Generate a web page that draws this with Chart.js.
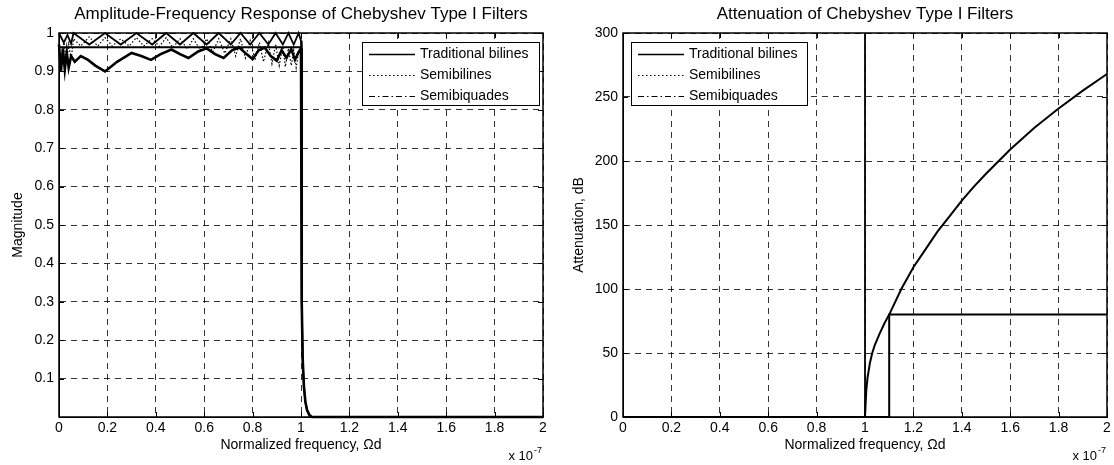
<!DOCTYPE html>
<html>
<head>
<meta charset="utf-8">
<script src="https://cdn.jsdelivr.net/npm/chart.js@4.4.1/dist/chart.umd.min.js"></script>
<style>
  html, body { margin: 0; padding: 0; background: #fff; }
  #wrap { position: relative; width: 1114px; height: 465px; overflow: hidden; }
  .panel { position: absolute; top: 0; width: 557px; height: 465px; }
</style>
</head>
<body>
<div id="wrap">
  <div class="panel" style="left:0"><canvas id="mag"></canvas></div>
  <div class="panel" style="left:557px"><canvas id="att"></canvas></div>
</div>
<script>
// ---- axis ticks (frequency in units of 10^-7) ----
const xTickValues = [0, 0.2, 0.4, 0.6, 0.8, 1, 1.2, 1.4, 1.6, 1.8, 2];
const xTickLabels = ['0', '0.2', '0.4', '0.6', '0.8', '1', '1.2', '1.4', '1.6', '1.8', '2'];
const magTickValues = [0, 0.1, 0.2, 0.3, 0.4, 0.5, 0.6, 0.7, 0.8, 0.9, 1];
const magTickLabels = ['', '0.1', '0.2', '0.3', '0.4', '0.5', '0.6', '0.7', '0.8', '0.9', '1'];
const attTickValues = [0, 50, 100, 150, 200, 250, 300];
const attTickLabels = ['0', '50', '100', '150', '200', '250', '300'];
const seriesNames = ['Traditional bilines', 'Semibilines', 'Semibiquades'];

// ---- magnitude response ----
const magTradX = [0, 0.02, 0.035, 0.05, 0.06, 0.125, 0.19, 0.255, 0.32, 0.385, 0.443, 0.5, 0.555, 0.61, 0.66, 0.71, 0.75, 0.79, 0.828, 0.865, 0.895, 0.925, 0.948, 0.97, 0.99, 1.0, 1.002, 1.004, 1.007, 1.012, 1.018, 1.025, 1.035, 1.045, 2.0];
const magTradY = [1.0, 0.975, 0.995, 0.972, 1.0, 0.97, 1.0, 0.97, 1.0, 0.97, 1.0, 0.97, 1.0, 0.97, 1.0, 0.97, 1.0, 0.97, 1.0, 0.97, 1.0, 0.97, 1.0, 0.97, 1.0, 0.98, 0.6, 0.3, 0.15, 0.08, 0.04, 0.018, 0.005, 0.0, 0.0];

const magSbilX = [0, 0.01, 0.02, 0.03, 0.04, 0.05, 0.06, 0.09, 0.125, 0.16, 0.19, 0.22, 0.255, 0.29, 0.32, 0.35, 0.385, 0.415, 0.443, 0.47, 0.5, 0.53, 0.555, 0.585, 0.61, 0.635, 0.66, 0.685, 0.71, 0.73, 0.75, 0.77, 0.79, 0.81, 0.828, 0.845, 0.865, 0.88, 0.895, 0.91, 0.925, 0.935, 0.948, 0.96, 0.97, 0.98, 0.99, 1.0, 1.002, 1.004, 1.007, 1.012, 1.018, 1.025, 1.035, 1.045, 2.0];
const magSbilY = [0.95, 0.91, 0.98, 0.92, 0.97, 0.93, 0.985, 0.966, 0.99, 0.966, 0.988, 0.966, 0.985, 0.966, 0.988, 0.966, 0.985, 0.965, 0.988, 0.962, 0.985, 0.958, 0.985, 0.955, 0.985, 0.95, 0.985, 0.947, 0.985, 0.94, 0.985, 0.935, 0.98, 0.93, 0.975, 0.925, 0.975, 0.92, 0.97, 0.915, 0.965, 0.912, 0.96, 0.915, 0.955, 0.91, 0.95, 0.96, 0.6, 0.3, 0.15, 0.08, 0.04, 0.018, 0.005, 0.0, 0.0];

const magSbiqX = [0, 0.008, 0.016, 0.024, 0.032, 0.04, 0.05, 0.065, 0.09, 0.12, 0.15, 0.19, 0.24, 0.3, 0.34, 0.38, 0.42, 0.465, 0.5, 0.535, 0.575, 0.61, 0.645, 0.68, 0.715, 0.745, 0.775, 0.8, 0.825, 0.85, 0.875, 0.9, 0.92, 0.94, 0.96, 0.975, 0.99, 1.0, 1.002, 1.004, 1.007, 1.012, 1.018, 1.025, 1.035, 1.045, 2.0];
const magSbiqY = [0.97, 0.9, 0.96, 0.905, 0.95, 0.91, 0.94, 0.925, 0.94, 0.93, 0.915, 0.9, 0.925, 0.948, 0.94, 0.93, 0.945, 0.957, 0.945, 0.935, 0.952, 0.96, 0.945, 0.935, 0.955, 0.962, 0.945, 0.932, 0.955, 0.962, 0.94, 0.928, 0.955, 0.935, 0.958, 0.93, 0.95, 0.96, 0.6, 0.3, 0.15, 0.08, 0.04, 0.018, 0.005, 0.0, 0.0];

const magFloorX = [0, 1.0];
const magFloorY = [0.963, 0.963];

// ---- attenuation, dB ----
const attTradX = [0, 1.0, 1.0];
const attTradY = [0, 0, 300];

const attSbilX = [0, 1.0, 1.005, 1.01, 1.02, 1.03, 1.04, 1.06, 1.08, 1.1, 2.0];
const attSbilY = [0, 0, 20, 30, 42, 50, 56, 65, 73, 80, 80];

const attSbiqX = [0, 1.1, 1.1, 1.15, 1.2, 1.25, 1.3, 1.35, 1.4, 1.45, 1.5, 1.6, 1.7, 1.8, 1.9, 2.0];
const attSbiqY = [0, 0, 80, 100, 117, 131, 145, 157, 169, 180, 190, 209, 226, 241, 255, 268];

// ---- drawing ----
const FONT = "'Liberation Sans', Arial, Helvetica, sans-serif";
const X_EXPONENT = '-7';
const legendDash = [[], [1.5, 2.5], [6, 3, 1.5, 3]];
const legendWidth = [1.6, 1.2, 1.2];

function pts(xs, ys) { return xs.map((x, i) => ({ x: x, y: ys[i] })); }

function line(data, width, dash) {
  return { data: data, borderColor: '#000', borderWidth: width, borderDash: dash || [],
           pointRadius: 0, tension: 0, fill: false, clip: false };
}

const decor = {
  id: 'decor',
  afterDraw(chart, args, o) {
    const ctx = chart.ctx, a = chart.chartArea;
    const xs = chart.scales.x, ys = chart.scales.y;
    ctx.save();
    ctx.setLineDash([]);
    ctx.strokeStyle = '#000';
    ctx.lineWidth = 1;
    ctx.beginPath();
    xs.ticks.forEach(t => {
      const p = Math.round(xs.getPixelForValue(t.value)) + 0.5;
      ctx.moveTo(p, a.bottom); ctx.lineTo(p, a.bottom - 5);
      ctx.moveTo(p, a.top); ctx.lineTo(p, a.top + 5);
    });
    ys.ticks.forEach(t => {
      const p = Math.round(ys.getPixelForValue(t.value)) + 0.5;
      ctx.moveTo(a.left, p); ctx.lineTo(a.left + 5, p);
      ctx.moveTo(a.right, p); ctx.lineTo(a.right - 5, p);
    });
    ctx.stroke();
    ctx.lineWidth = 1.5;
    ctx.strokeRect(a.left, a.top, a.right - a.left, a.bottom - a.top);

    // title
    ctx.fillStyle = '#000';
    ctx.font = '17px ' + FONT;
    ctx.textAlign = 'center';
    ctx.textBaseline = 'middle';
    ctx.fillText(o.title, (a.left + a.right) / 2, 14);

    // axis multiplier
    ctx.textAlign = 'left';
    ctx.textBaseline = 'alphabetic';
    ctx.font = '9px ' + FONT;
    const wExp = ctx.measureText(X_EXPONENT).width;
    ctx.font = '13px ' + FONT;
    const base = 'x 10';
    const wBase = ctx.measureText(base).width;
    const x0 = a.right - 2 - wExp - wBase;
    ctx.fillText(base, x0, 460);
    ctx.font = '9px ' + FONT;
    ctx.fillText(X_EXPONENT, x0 + wBase + 1, 453);

    // legend
    const L = o.legend;
    ctx.fillStyle = '#fff';
    ctx.fillRect(L.x, L.y, L.w, L.h);
    ctx.lineWidth = 1;
    ctx.strokeRect(L.x + 0.5, L.y + 0.5, L.w, L.h);
    ctx.font = '14px ' + FONT;
    ctx.textBaseline = 'middle';
    ctx.fillStyle = '#000';
    seriesNames.forEach((name, i) => {
      const cy = L.y + 12 + i * 21;
      ctx.save();
      ctx.lineWidth = legendWidth[i];
      ctx.setLineDash(legendDash[i]);
      ctx.beginPath();
      ctx.moveTo(L.x + 7, cy + 0.5);
      ctx.lineTo(L.x + 7 + L.sample, cy + 0.5);
      ctx.stroke();
      ctx.restore();
      ctx.fillText(name, L.x + 12 + L.sample, cy);
    });
    ctx.restore();
  }
};

function scales(yVals, yLabels, yMax, yTitle, yTitlePad, yWidth) {
  const grid = { color: '#000', lineWidth: 0.8, drawTicks: false };
  const border = { display: true, color: '#000', width: 1, dash: [6, 5] };
  const tickFont = { family: FONT, size: 14 };
  return {
    x: {
      type: 'linear', min: 0, max: 2,
      afterBuildTicks: s => { s.ticks = xTickValues.map(v => ({ value: v })); },
      afterFit: s => { s.height = 48; },
      grid: grid, border: border,
      ticks: { autoSkip: false, maxRotation: 0, color: '#000', font: tickFont, padding: 3,
               callback: (v, i) => xTickLabels[i] },
      title: { display: true, text: 'Normalized frequency, \u03A9d', color: '#000',
               font: tickFont, padding: { top: 0, bottom: 11 } }
    },
    y: {
      type: 'linear', min: 0, max: yMax,
      afterBuildTicks: s => { s.ticks = yVals.map(v => ({ value: v })); },
      afterFit: s => { s.width = yWidth; },
      grid: grid, border: border,
      ticks: { autoSkip: false, color: '#000', font: tickFont, padding: 5,
               callback: (v, i) => yLabels[i] },
      title: { display: true, text: yTitle, color: '#000', font: tickFont,
               padding: { top: yTitlePad, bottom: 0 } }
    }
  };
}

function baseOptions(padRight, sc, title, legend) {
  return {
    responsive: true, maintainAspectRatio: false, animation: false,
    layout: { padding: { top: 33, right: padRight, left: 0, bottom: 0 } },
    scales: sc,
    plugins: { legend: { display: false }, tooltip: { enabled: false }, title: { display: false },
               decor: { title: title, legend: legend } }
  };
}

new Chart(document.getElementById('mag'), {
  type: 'line',
  data: { datasets: [
    line(pts(magFloorX, magFloorY), 2),
    line(pts(magSbilX, magSbilY), 1.2, [1.5, 2]),
    line(pts(magSbiqX, magSbiqY), 2.6),
    line(pts(magTradX, magTradY), 1.8)
  ] },
  options: baseOptions(14,
    scales(magTickValues, magTickLabels, 1, 'Magnitude', 10, 59),
    'Amplitude-Frequency Response of Chebyshev Type I Filters',
    { x: 362, y: 42, w: 177, h: 63, sample: 46 }),
  plugins: [decor]
});

new Chart(document.getElementById('att'), {
  type: 'line',
  data: { datasets: [
    line(pts(attTradX, attTradY), 1.8),
    line(pts(attSbilX, attSbilY), 2),
    line(pts(attSbiqX, attSbiqY), 2)
  ] },
  options: baseOptions(7,
    scales(attTickValues, attTickLabels, 300, 'Attenuation, dB', 14, 66),
    'Attenuation of Chebyshev Type I Filters',
    { x: 74, y: 42, w: 176, h: 63, sample: 46 }),
  plugins: [decor]
});
</script>
</body>
</html>
